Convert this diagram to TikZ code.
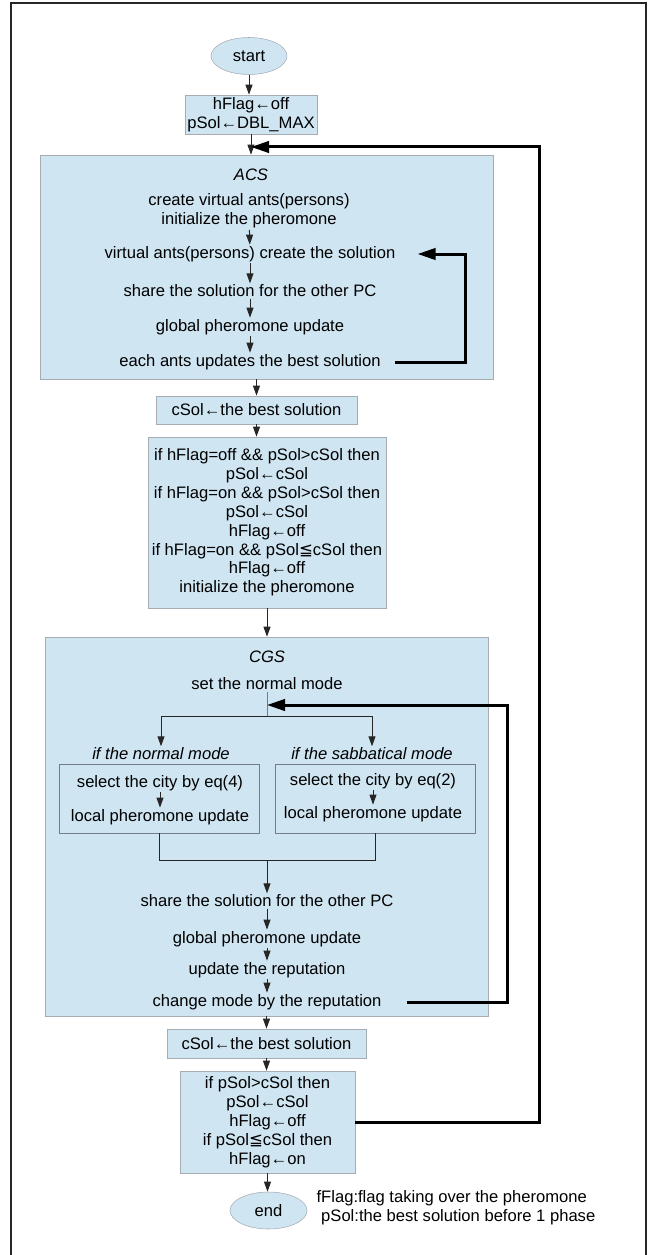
\documentclass[tikz,border=0pt]{standalone}
\usepackage{fontspec}
\setmainfont{Liberation Sans}
\newfontfamily\symfont{DejaVu Sans}
\usetikzlibrary{arrows.meta,shapes.geometric}

\definecolor{boxfill}{RGB}{207,229,242}
\definecolor{boxline}{RGB}{165,172,178}
\definecolor{innerline}{RGB}{115,125,135}

\tikzset{
  flowbox/.style={draw=boxline, fill=boxfill, align=center, inner sep=0pt},
  term/.style={ellipse, draw=boxline, fill=boxfill, inner sep=0pt, minimum width=57pt, minimum height=27.75pt},
  txt/.style={align=center, inner sep=1pt, yshift=-1.5pt},
  flow/.style={draw=black!85, line width=0.75pt, -{Triangle[length=7.5pt,width=5.2pt]}},
  loopline/.style={line width=2.25pt, -{Triangle[length=13.5pt,width=8.5pt]}},
}

\begin{document}
\begin{tikzpicture}[x=0.75pt,y=0.75pt,yscale=-1,xscale=1,font=\fontsize{12.45}{14.15}\selectfont]
\useasboundingbox (0,0) rectangle (648,1255);

%Frame
\draw [black!85, line width=1.1pt] (11,1255) -- (11,3) -- (646,3) -- (646,1255) ;

%Start and first assignment
\node [term] (start) at (249,56) {start};
\node [flowbox, minimum width=99pt, minimum height=29.25pt] (init) at (251,114.5) {hFlag←off\\pSol←DBL\_MAX};
\draw [flow] (start) -- (start |- init.north);

%ACS block
\node [flowbox, minimum width=339.75pt, minimum height=168pt] (acs) at (266.5,267) {};
\draw [flow] (init.south) -- (init.south |- acs.north);
\node [txt] (acst) at (251,173) {\textit{ACS}};
\node [txt] (a1) at (249,209) {create virtual ants(persons)\\initialize the pheromone};
\node [txt] (a2) at (250,252) {virtual ants(persons) create the solution};
\node [txt] (a3) at (250,289) {share the solution for the other PC};
\node [txt] (a4) at (250,325) {global pheromone update};
\node [txt] (a5) at (250,360) {each ants updates the best solution};
\draw [flow] (a1) -- (a2);
\draw [flow] (a2) -- (a3);
\draw [flow] (a3) -- (a4);
\draw [flow] (a4) -- (a5);
%ACS loop
\coordinate (acsloop) at (465,300);
\draw [loopline, shorten <=9.75pt, shorten >=15.5pt] (a5.east) -| (acsloop) |- (a2.east);

%Result of ACS
\node [flowbox, minimum width=150.75pt, minimum height=21pt] (cs1) at (256.5,410) {cSol←the best solution};
\draw [flow] (cs1 |- acs.south) -- (cs1.north);
\node [flowbox, minimum width=178.5pt, minimum height=128.25pt] (if1) at (267,522.5) {if hFlag=off \&\& pSol>cSol then\\pSol←cSol\\if hFlag=on \&\& pSol>cSol then\\pSol←cSol\\hFlag←off\\if hFlag=on \&\& pSol{\symfont ≦}cSol then\\hFlag←off\\initialize the pheromone};
\draw [flow] (cs1.south) -- (cs1.south |- if1.north);

%CGS block
\node [flowbox, minimum width=332.25pt, minimum height=284.25pt] (cgs) at (266.5,826.5) {};
\draw [flow] (if1.south) -- (if1.south |- cgs.north);
\node [txt] (cgst) at (267,655) {\textit{CGS}};
\node [txt] (c1) at (267,682) {set the normal mode};
\coordinate (join) at (267,705);
\coordinate (split) at (267,716);
\draw [innerline, line width=0.75pt] (c1.south) -- (split);
\node [txt] (nm) at (161,752) {\textit{if the normal mode}};
\node [txt] (sm) at (372,752) {\textit{if the sabbatical mode}};
\draw [flow] (split) -| (nm.north);
\draw [flow] (split) -| (sm.north);

%Mode boxes
\node [flowbox, draw=innerline, minimum width=150pt, minimum height=51.75pt] (nbox) at (159,798.5) {};
\node [flowbox, draw=innerline, minimum width=150pt, minimum height=51.75pt] (sbox) at (375,798.5) {};
\node [txt] (n1) at (160,781) {select the city by eq(4)};
\node [txt] (n2) at (160,815) {local pheromone update};
\node [txt] (s1) at (373,779) {select the city by eq(2)};
\node [txt] (s2) at (373,812) {local pheromone update};
\draw [flow] (n1) -- (n2);
\draw [flow] (s1) -- (s2);
\coordinate (merge) at (267,860);
\draw [black!85, line width=0.75pt] (nbox.south) |- (merge) -| (sbox.south);

\node [txt] (c2) at (267,899) {share the solution for the other PC};
\node [txt] (c3) at (267,937) {global pheromone update};
\node [txt] (c4) at (267,968) {update the reputation};
\node [txt] (c5) at (267,1000) {change mode by the reputation};
\draw [flow] (merge) -- (c2);
\draw [flow] (c2) -- (c3);
\draw [flow] (c3) -- (c4);
\draw [flow] (c4) -- (c5);
%CGS loop
\coordinate (cgsloop) at (507,850);
\draw [loopline, shorten <=18pt] (c5.east) -| (cgsloop) |- (join);

%Result of CGS
\node [flowbox, minimum width=149.25pt, minimum height=21.75pt] (cs2) at (266.5,1043.5) {cSol←the best solution};
\draw [flow] (cs2 |- cgs.south) -- (cs2.north);
\node [flowbox, minimum width=131.25pt, minimum height=76.5pt] (if2) at (267.5,1122) {if pSol>cSol then\\pSol←cSol\\hFlag←off\\if pSol{\symfont ≦}cSol then\\hFlag←on};
\draw [flow] (cs2.south) -- (cs2.south |- if2.north);
\node [term, minimum width=57.75pt] (end) at (268.5,1210.5) {end};
\draw [flow] (if2.south) -- (if2.south |- end.north);
\node [txt, align=left, anchor=west] (note) at (315,1205.5) {fFlag:flag taking over the pheromone\\~pSol:the best solution before 1 phase};

%Main loop
\coordinate (mainloop) at (539,600);
\coordinate (topjoin) at (251,147);
\draw [loopline] (if2.east) -| (mainloop) |- (topjoin);

\end{tikzpicture}
\end{document}
